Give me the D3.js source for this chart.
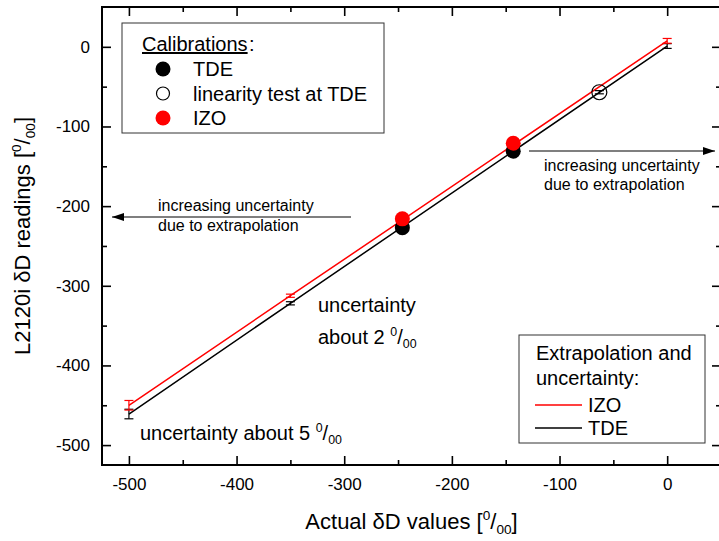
<!DOCTYPE html>
<html>
<head>
<meta charset="utf-8">
<script src="https://cdn.jsdelivr.net/npm/d3@7"></script>
<style>
  body { margin: 0; background: #fff; }
  svg { display: block; font-family: 'Liberation Sans', Arial, sans-serif; }
</style>
</head>
<body>
<div id="chart"></div>
<script>
// calibration points (actual dD, L2120i reading)
var calX = [-246, -143];
var tdeCalY = [-227, -131];
var izoCalY = [-216, -121];
var linX = [-63];
var linY = [-57];
var linErr = [2];

// extrapolation lines + error bars
var extX = [-500, -350, 0];
var tdeExtY = [-461, -322, 1];
var izoExtY = [-450, -312.5, 7.5];
var tdeErr = [6, 2, 3];
var izoErr = [6, 2, 3];

var majorTicks = [-500, -400, -300, -200, -100, 0];
var minorTicks = [-450, -350, -250, -150, -50];

(function(){
    var W = 719, H = 541;
    var margin = { top: 7, left: 102 };
    var width = 619, height = 458;   // right frame sits just past the window edge

    var svg = d3.select('#chart').append('svg')
        .attr('width', W).attr('height', H);
    svg.append('rect').attr('width', W).attr('height', H).attr('fill', '#fff');

    var g = svg.append('g')
        .attr('transform', 'translate(' + margin.left + ',' + margin.top + ')');

    var x = d3.scaleLinear().domain([-525, 50]).range([0, width]);
    var y = d3.scaleLinear().domain([-525, 50]).range([height, 0]);

    var fmt = function(d){ return String(d); }; // plain hyphen minus like the original

    function styleAxis(sel) {
        sel.select('.domain').remove();
        sel.selectAll('line').attr('stroke', '#000').attr('stroke-width', 1.6);
        sel.selectAll('text').attr('fill', '#000').style('font-size', '17px')
            .style('font-family', "'Liberation Sans', Arial, sans-serif");
    }

    // bottom
    g.append('g').attr('transform', 'translate(0,' + height + ')')
        .call(d3.axisBottom(x).tickValues(majorTicks).tickSize(-9).tickPadding(13).tickFormat(fmt))
        .call(styleAxis);
    g.append('g').attr('transform', 'translate(0,' + height + ')')
        .call(d3.axisBottom(x).tickValues(minorTicks).tickSize(-5).tickFormat(''))
        .call(styleAxis);
    // top
    g.append('g')
        .call(d3.axisTop(x).tickValues(majorTicks).tickSize(-9).tickFormat(''))
        .call(styleAxis);
    g.append('g')
        .call(d3.axisTop(x).tickValues(minorTicks).tickSize(-5).tickFormat(''))
        .call(styleAxis);
    // left
    g.append('g')
        .call(d3.axisLeft(y).tickValues(majorTicks).tickSize(-9).tickPadding(12).tickFormat(fmt))
        .call(styleAxis);
    g.append('g')
        .call(d3.axisLeft(y).tickValues(minorTicks).tickSize(-5).tickFormat(''))
        .call(styleAxis);
    // right
    g.append('g').attr('transform', 'translate(' + width + ',0)')
        .call(d3.axisRight(y).tickValues(majorTicks).tickSize(-9).tickFormat(''))
        .call(styleAxis);
    g.append('g').attr('transform', 'translate(' + width + ',0)')
        .call(d3.axisRight(y).tickValues(minorTicks).tickSize(-5).tickFormat(''))
        .call(styleAxis);

    // frame
    g.append('rect')
        .attr('width', width).attr('height', height)
        .attr('fill', 'none').attr('stroke', '#000').attr('stroke-width', 2);

    // extrapolation lines
    var line = d3.line()
        .x(function(d){ return x(d[0]); })
        .y(function(d){ return y(d[1]); });

    function series(ys, errs, col) {
        var pts = extX.map(function(v, i){ return [v, ys[i]]; });
        g.append('path').datum(pts)
            .attr('fill', 'none').attr('stroke', col).attr('stroke-width', 1.5)
            .attr('d', line);
        pts.forEach(function(p, i){
            errBar(p[0], p[1], errs[i], col);
        });
    }
    function errBar(xv, yv, e, col) {
        var cx = x(xv), y1 = y(yv - e), y2 = y(yv + e);
        g.append('line').attr('x1', cx).attr('x2', cx).attr('y1', y1).attr('y2', y2)
            .attr('stroke', col).attr('stroke-width', 1.2);
        [y1, y2].forEach(function(yy){
            g.append('line').attr('x1', cx - 4.5).attr('x2', cx + 4.5).attr('y1', yy).attr('y2', yy)
                .attr('stroke', col).attr('stroke-width', 1.2);
        });
    }
    series(tdeExtY, tdeErr, '#000');
    series(izoExtY, izoErr, '#ff0000');

    // calibration points
    g.selectAll('.tde').data(calX).enter().append('circle')
        .attr('cx', function(d){ return x(d); })
        .attr('cy', function(d, i){ return y(tdeCalY[i]); })
        .attr('r', 7.5).attr('fill', '#000');
    g.selectAll('.izo').data(calX).enter().append('circle')
        .attr('cx', function(d){ return x(d); })
        .attr('cy', function(d, i){ return y(izoCalY[i]); })
        .attr('r', 7.5).attr('fill', '#ff0000');
    linX.forEach(function(v, i){
        errBar(v, linY[i], linErr[i], '#000');
        g.append('circle').attr('cx', x(v)).attr('cy', y(linY[i]))
            .attr('r', 7.5).attr('fill', 'none').attr('stroke', '#000').attr('stroke-width', 1.2);
    });

    // permil helper: [ 0/00 ]
    function permil(t, prefix, fs, brackets) {
        t.append('tspan').text(prefix + (brackets ? '[' : ''));
        t.append('tspan').attr('dy', -0.42 * fs).style('font-size', (0.62 * fs) + 'px').text('0');
        t.append('tspan').attr('dy', 0.42 * fs).text('/');
        t.append('tspan').attr('dy', 0.22 * fs).style('font-size', (0.62 * fs) + 'px').text('00');
        t.append('tspan').attr('dy', -0.22 * fs).text(brackets ? ']' : '');
    }

    // axis titles
    var xt = svg.append('text').attr('x', margin.left + width / 2).attr('y', 529)
        .attr('text-anchor', 'middle').style('font-size', '22px');
    permil(xt, 'Actual \u03b4D values ', 22, true);
    var yt = svg.append('text')
        .attr('transform', 'translate(30,' + (margin.top + height / 2) + ') rotate(-90)')
        .attr('text-anchor', 'middle').style('font-size', '22px');
    permil(yt, 'L2120i \u03b4D readings ', 22, true);

    // calibration legend
    svg.append('rect').attr('x', 122).attr('y', 23).attr('width', 262).attr('height', 110)
        .attr('fill', '#fff').attr('stroke', '#333').attr('stroke-width', 1);
    svg.append('text').attr('x', 142).attr('y', 51).style('font-size', '20px')
        .style('text-decoration', 'underline').text('Calibrations');
    svg.append('text').attr('x', 142 + 107).attr('y', 51).style('font-size', '20px').text(':');
    var legRows = [
        { label: 'TDE', fill: '#000', stroke: 'none', r: 7.5 },
        { label: 'linearity test at TDE', fill: 'none', stroke: '#000', r: 6.5 },
        { label: 'IZO', fill: '#ff0000', stroke: 'none', r: 7.5 }
    ];
    legRows.forEach(function(d, i){
        var cy = 69 + i * 24.5;
        svg.append('circle').attr('cx', 163).attr('cy', cy).attr('r', d.r)
            .attr('fill', d.fill).attr('stroke', d.stroke).attr('stroke-width', 1.2);
        svg.append('text').attr('x', 193).attr('y', cy + 7).style('font-size', '20px').text(d.label);
    });

    // extrapolation legend
    svg.append('rect').attr('x', 519).attr('y', 335).attr('width', 186).attr('height', 108)
        .attr('fill', '#fff').attr('stroke', '#333').attr('stroke-width', 1);
    svg.append('text').attr('x', 536).attr('y', 360).style('font-size', '20px').text('Extrapolation and');
    svg.append('text').attr('x', 536).attr('y', 385).style('font-size', '20px').text('uncertainty:');
    [['IZO', '#ff0000', 405], ['TDE', '#000', 428]].forEach(function(d){
        svg.append('line').attr('x1', 535).attr('x2', 582).attr('y1', d[2]).attr('y2', d[2])
            .attr('stroke', d[1]).attr('stroke-width', 1.3);
        svg.append('text').attr('x', 588).attr('y', d[2] + 7).style('font-size', '20px').text(d[0]);
    });

    // annotations
    svg.append('text').attr('x', 318).attr('y', 312).style('font-size', '20px').text('uncertainty');
    permil(svg.append('text').attr('x', 318).attr('y', 344).style('font-size', '20px'), 'about 2 ', 20, false);
    permil(svg.append('text').attr('x', 140).attr('y', 440).style('font-size', '20px'), 'uncertainty about 5 ', 20, false);

    // arrows
    var defs = svg.append('defs');
    defs.append('marker').attr('id', 'ah').attr('viewBox', '0 0 12 8')
        .attr('refX', 12).attr('refY', 4).attr('markerWidth', 12).attr('markerHeight', 8)
        .attr('markerUnits', 'userSpaceOnUse').attr('orient', 'auto')
        .append('path').attr('d', 'M0,0L12,4L0,8Z').attr('fill', '#000');
    svg.append('line').attr('x1', 351).attr('y1', 217).attr('x2', 112).attr('y2', 217)
        .attr('stroke', '#000').attr('stroke-width', 1.2).attr('marker-end', 'url(#ah)');
    svg.append('line').attr('x1', 529).attr('y1', 151).attr('x2', 715).attr('y2', 151)
        .attr('stroke', '#000').attr('stroke-width', 1.2).attr('marker-end', 'url(#ah)');
    [[158, 211, 'increasing uncertainty'], [158, 231, 'due to extrapolation'],
     [544, 171, 'increasing uncertainty'], [544, 190, 'due to extrapolation']].forEach(function(d){
        svg.append('text').attr('x', d[0]).attr('y', d[1]).style('font-size', '16px').text(d[2]);
    });
})();
</script>
</body>
</html>
